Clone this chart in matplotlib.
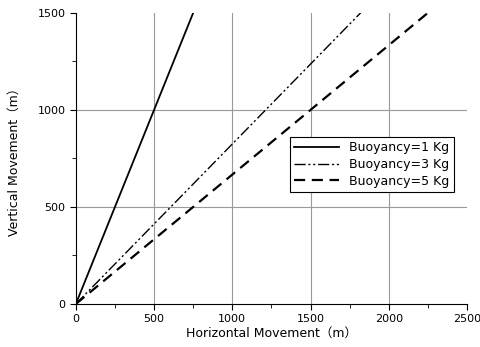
import numpy as np
from matplotlib import pyplot as plt

plt.rcParams['font.family'] = ['DejaVu Sans', 'Noto Sans CJK JP']

# horizontal / vertical movement (m)
x_b1 = [0, 750]
y_b1 = [0, 1500]
x_b3 = [0, 1820]
y_b3 = [0, 1500]
x_b5 = [0, 2250]
y_b5 = [0, 1500]

fig = plt.figure(figsize=(4.8, 3.47), dpi=100)
ax = fig.add_axes([0.158, 0.124, 0.815, 0.839])

ax.plot(x_b1, y_b1, color='black', lw=1.3, ls='-', label='Buoyancy=1 Kg')
ax.plot(x_b3, y_b3, color='black', lw=1.0, ls=(0, (8, 2, 1.5, 2, 1.5, 2)), label='Buoyancy=3 Kg')
ax.plot(x_b5, y_b5, color='black', lw=1.6, ls=(0, (5, 3)), label='Buoyancy=5 Kg')

ax.set_xlim(0, 2500)
ax.set_ylim(0, 1500)
ax.set_xticks(np.arange(0, 2501, 500))
ax.set_yticks(np.arange(0, 1501, 500))
ax.set_xticks(np.arange(0, 2501, 250), minor=True)
ax.set_yticks(np.arange(0, 1501, 250), minor=True)
# grid lines inside the plot only (none at the top / right limits)
for xv in [500, 1000, 1500, 2000]:
    ax.axvline(xv, color='#999999', lw=0.8, zorder=0)
for yv in [500, 1000]:
    ax.axhline(yv, color='#999999', lw=0.8, zorder=0)
for s in ['top', 'right']:
    ax.spines[s].set_visible(False)
ax.tick_params(which='both', direction='out', labelsize=8, colors='black')
ax.tick_params(which='major', length=4)
ax.tick_params(which='minor', length=3)

ax.set_xlabel('Horizontal Movement（m）', fontsize=9, labelpad=2)
ax.set_ylabel('Vertical Movement（m）', fontsize=9, labelpad=12)

leg = ax.legend(loc='upper left', bbox_to_anchor=(0.547, 0.574), fontsize=9,
                fancybox=False, framealpha=1, edgecolor='black',
                handlelength=3.6, borderpad=0.35, labelspacing=0.3,
                borderaxespad=0)
leg.get_frame().set_linewidth(0.8)

fig.savefig('out.png', dpi=100)
